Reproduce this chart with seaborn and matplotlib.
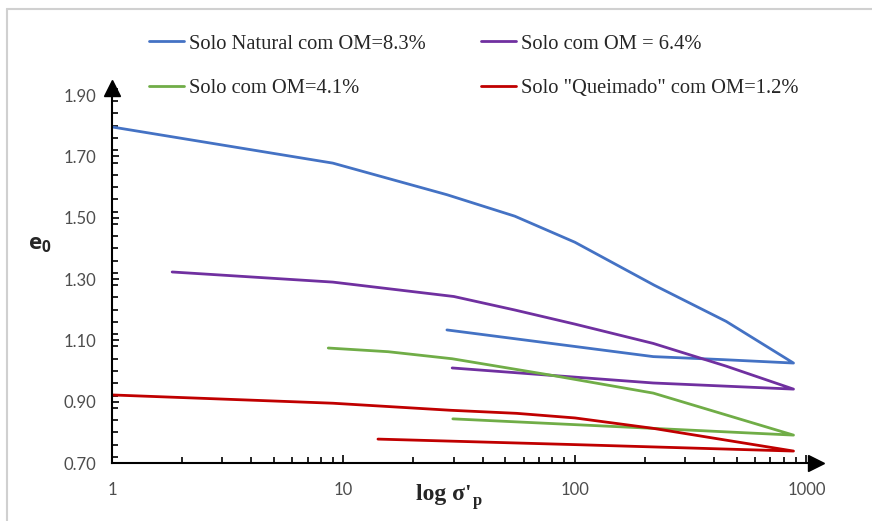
# Curvas e0 x log sigma'p para os quatro solos
import pandas as pd
import seaborn as sns
import matplotlib.pyplot as plt
from matplotlib.lines import Line2D
from matplotlib.ticker import MultipleLocator, FixedLocator, FixedFormatter, LogLocator, NullFormatter, FormatStrFormatter

# valores (ramo superior e ramo de retorno)
natural_x_up = [1, 9, 28, 55, 100, 220, 450, 880]
natural_e_up = [1.796, 1.678, 1.575, 1.505, 1.42, 1.28, 1.162, 1.026]
natural_x_down = [440, 218, 28]
natural_e_down = [1.037, 1.047, 1.134]

om64_x_up = [1.82, 9, 30, 55, 100, 218, 450, 880]
om64_e_up = [1.323, 1.290, 1.243, 1.199, 1.153, 1.090, 1.016, 0.941]
om64_x_down = [218, 29.5]
om64_e_down = [0.961, 1.010]

om41_x_up = [8.6, 15.6, 29.5, 78, 218, 880]
om41_e_up = [1.075, 1.063, 1.040, 0.987, 0.928, 0.791]
om41_x_down = [218, 29.7]
om41_e_down = [0.813, 0.844]

queim_x_up = [1, 9, 29, 56, 100, 218, 880]
queim_e_up = [0.922, 0.895, 0.872, 0.862, 0.847, 0.813, 0.739]
queim_x_down = [100, 14.1]
queim_e_down = [0.760, 0.778]

labels = ['Solo Natural com OM=8.3%', 'Solo com OM = 6.4%',
          'Solo com OM=4.1%', 'Solo "Queimado" com OM=1.2%']
colors = ['#4472C4', '#7030A0', '#70AD47', '#C00000']

series = [
    (natural_x_up + natural_x_down, natural_e_up + natural_e_down),
    (om64_x_up + om64_x_down, om64_e_up + om64_e_down),
    (om41_x_up + om41_x_down, om41_e_up + om41_e_down),
    (queim_x_up + queim_x_down, queim_e_up + queim_e_down),
]

rows = []
for lab, (xs, es) in zip(labels, series):
    for i, (x, e) in enumerate(zip(xs, es)):
        rows.append({'solo': lab, 'ordem': i, 'sigma': x, 'e0': e})
df = pd.DataFrame(rows)

sns.set_style('white')
plt.rcParams['font.family'] = ['Lato', 'DejaVu Sans']
plt.rcParams['mathtext.fontset'] = 'custom'
plt.rcParams['mathtext.sf'] = 'Open Sans:bold'

fig = plt.figure(figsize=(8.72, 5.21), dpi=100)
ax = fig.add_axes([0.1284, 0.1113, 0.8073, 0.7198])

sns.lineplot(data=df, x='sigma', y='e0', hue='solo', hue_order=labels,
             palette=colors, sort=False, estimator=None, lw=2, ax=ax, legend=False)

ax.set_xscale('log')
ax.set_xlim(1, 1100)
ax.set_ylim(0.70, 1.923)

ax.xaxis.set_major_locator(FixedLocator([1, 10, 100, 1000]))
ax.xaxis.set_major_formatter(FixedFormatter(['1', '10', '100', '1000']))
ax.xaxis.set_minor_locator(LogLocator(base=10, subs=range(2, 10)))
ax.xaxis.set_minor_formatter(NullFormatter())
ax.yaxis.set_major_locator(FixedLocator([0.7, 0.9, 1.1, 1.3, 1.5, 1.7, 1.9]))
ax.yaxis.set_major_formatter(FormatStrFormatter('%.2f'))
ax.yaxis.set_minor_locator(MultipleLocator(0.04))

ax.tick_params(axis='both', which='both', direction='in', color='black', width=1.2,
               bottom=True, left=True)
ax.tick_params(axis='x', which='major', length=6, pad=14, labelsize=12, labelcolor='#4d4d4d')
ax.tick_params(axis='x', which='minor', length=4)
ax.tick_params(axis='y', which='major', length=5, pad=11, labelsize=12, labelcolor='#4d4d4d')
ax.tick_params(axis='y', which='minor', length=4)

for s in ['top', 'right']:
    ax.spines[s].set_visible(False)
for s in ['left', 'bottom']:
    ax.spines[s].set_linewidth(1.5)
    ax.spines[s].set_color('black')

# setas nas pontas dos eixos
ax.plot(1, 0, marker='>', ms=11, color='black', transform=ax.transAxes, clip_on=False)
ax.plot(0, 1, marker='^', ms=11, color='black', transform=ax.transAxes, clip_on=False)

ax.set_xlabel('')
ax.set_ylabel('')
xl = fig.text(416 / 872, 1 - 500 / 521, "log σ'", ha='left', va='baseline', fontsize=17,
              family='Liberation Serif', weight='bold')
fig.canvas.draw()
bb = xl.get_window_extent()
fig.text(bb.x1 / fig.bbox.width + 0.001, 1 - 505 / 521, 'p', ha='left', va='baseline',
         fontsize=12, family='Liberation Serif', weight='bold')
fig.text(0.046, 0.53, r"$\mathsf{e_0}$", ha='center', va='center', fontsize=16)

handles = [Line2D([], [], color=c, lw=2) for c in colors]
order = [0, 2, 1, 3]
fig.legend([handles[i] for i in order], [labels[i] for i in order], ncol=2,
           loc='upper left', bbox_to_anchor=(139 / 872, 1 - 24 / 521), frameon=False,
           prop={'family': 'Liberation Serif', 'size': 14.8}, handlelength=1.7,
           handletextpad=0.25, columnspacing=2.65, labelspacing=1.2, borderpad=0)

# moldura cinza da imagem
fig.add_artist(Line2D([7 / 872, 7 / 872], [0, 1 - 9 / 521], color='#d0d0d0', lw=1.5))
fig.add_artist(Line2D([7 / 872, 1], [1 - 9 / 521, 1 - 9 / 521], color='#d0d0d0', lw=1.5))

fig.savefig('out.png', dpi=100)
